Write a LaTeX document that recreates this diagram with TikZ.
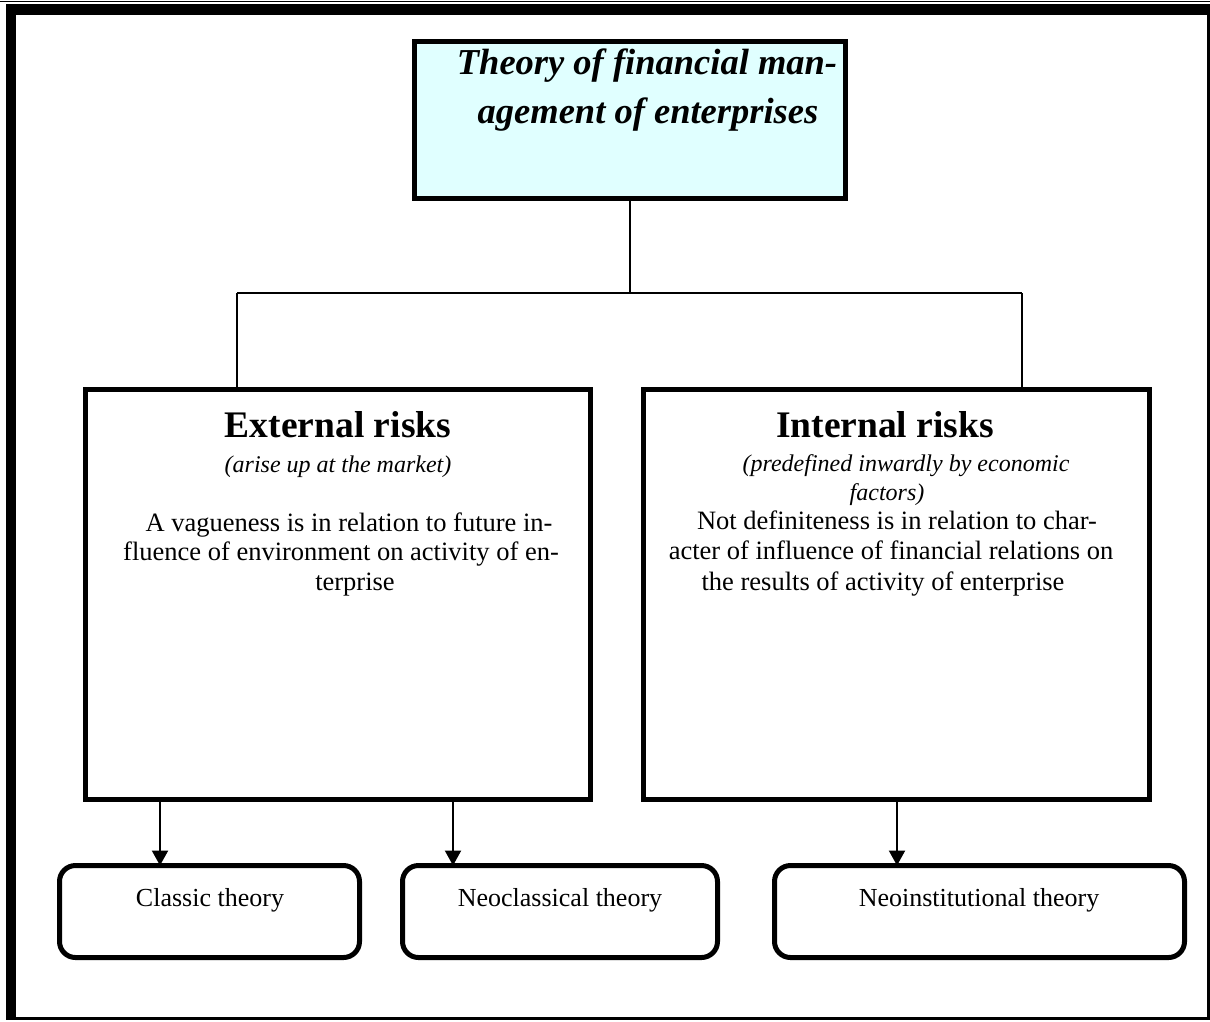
\documentclass[tikz,border=0pt]{standalone}
\usepackage{fontspec}
\setmainfont{Liberation Serif}
\usetikzlibrary{arrows.meta}
\definecolor{lightcyanbox}{RGB}{224,255,255}
\begin{document}
\begin{tikzpicture}[x=1pt,y=-1pt,
  box/.style={draw, line width=5pt, inner sep=0pt, outer sep=0pt},
  rbox/.style={draw, line width=5pt, rounded corners=16pt, inner sep=0pt, outer sep=0pt, minimum height=92pt},
  conn/.style={line width=1.6pt},
  arr/.style={line width=2.2pt, -{Triangle[width=16pt,length=15pt]}},
  txt/.style={inner sep=0pt, anchor=base},
  titlef/.style={font=\fontsize{36.5}{44}\selectfont\bfseries\itshape},
  headf/.style={font=\fontsize{37.5}{44}\selectfont\bfseries},
  subf/.style={font=\fontsize{24}{29}\selectfont\itshape},
  bodyf/.style={font=\fontsize{26.5}{32}\selectfont},
  smallf/.style={font=\fontsize{26}{31}\selectfont},
]
\useasboundingbox (0,0) rectangle (1210,1021);
% outer frame
\fill (0,0.8) rectangle (1210,2.4);
\fill (6,4.4) rectangle (1210,15);
\fill (6,4.4) rectangle (16,1020);
\fill (1207.3,15) rectangle (1210,1020);
\fill (6,1016.8) rectangle (1210,1019.8);

% top box
\node[box, fill=lightcyanbox, minimum width=431pt, minimum height=157pt] (top) at (630,119.5) {};
\node[txt, titlef] (t1) at (647,74) {Theory of financial man-};
\node[txt, titlef] (t2) at (648,123) {agement of enterprises};

% risk boxes
\node[box, minimum width=505pt, minimum height=410pt] (ext) at (338,594.5) {};
\node[box, minimum width=506.5pt, minimum height=410pt] (int) at (896.25,594.5) {};

% tree connectors
\coordinate (j) at (630,293);
\coordinate (jl) at (237,293);
\coordinate (jr) at (1022,293);
\draw[conn] (top.south) -- (j);
\draw[conn] (jl) -- (jr);
\draw[conn] (jl) -- (jl |- ext.north);
\draw[conn] (jr) -- (jr |- int.north);

% external text
\node[txt, headf] (eh) at (338,437) {External risks};
\node[txt, subf] (es) at (338,472) {(arise up at the market)};
\node[txt, bodyf] (e1) at (349,531) {A vagueness is in relation to future in-};
\node[txt, bodyf] (e2) at (341,560) {fluence of environment on activity of en-};
\node[txt, bodyf] (e3) at (355,590) {terprise};

% internal text
\node[txt, headf] (ih) at (885,437) {Internal risks};
\node[txt, subf] (is1) at (906,471) {(predefined inwardly by economic};
\node[txt, subf] (is2) at (887,500) {factors)};
\node[txt, bodyf] (i1) at (897,529) {Not definiteness is in relation to char-};
\node[txt, bodyf] (i2) at (891,559) {acter of influence of financial relations on};
\node[txt, bodyf] (i3) at (883,590) {the results of activity of enterprise};

% theory boxes
\node[rbox, minimum width=300pt] (cl) at (209.5,911.5) {};
\node[rbox, minimum width=315pt] (nc) at (560,911.5) {};
\node[rbox, minimum width=410pt] (ni) at (979.5,911.5) {};
\node[txt, smallf] (clt) at (210,906) {Classic theory};
\node[txt, smallf] (nct) at (560,906) {Neoclassical theory};
\node[txt, smallf] (nit) at (979,906) {Neoinstitutional theory};

% arrows
\coordinate (a1) at (160,0);
\coordinate (a2) at (453,0);
\coordinate (a3) at (897,0);
\draw[arr] (ext.south -| a1) -- (cl.north -| a1);
\draw[arr] (ext.south -| a2) -- (nc.north -| a2);
\draw[arr] (int.south -| a3) -- (ni.north -| a3);
\end{tikzpicture}
\end{document}
